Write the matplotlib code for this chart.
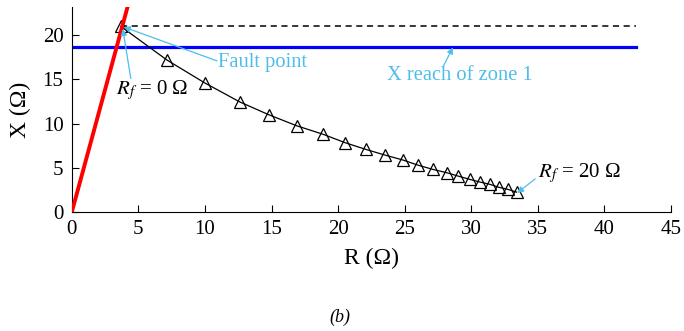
import matplotlib.pyplot as plt

plt.rcParams['font.family'] = ['Liberation Serif', 'DejaVu Serif']
plt.rcParams['mathtext.fontset'] = 'stix'

# Траєкторія опору при зміні Rf від 0 до 20 Ом (крок 1 Ом)
r_traj = [3.68, 7.14, 9.99, 12.62, 14.80, 16.90, 18.86, 20.51, 22.09, 23.52, 24.87,
          26.00, 27.12, 28.17, 29.00, 29.90, 30.65, 31.40, 32.08, 32.76, 33.40]
x_traj = [21.0, 17.2, 14.6, 12.45, 11.0, 9.75, 8.8, 7.85, 7.08, 6.44, 5.88,
          5.3, 4.82, 4.44, 4.07, 3.69, 3.39, 3.13, 2.79, 2.56, 2.25]

# Характеристика лінії
line_r = [0, 4.6]
line_x = [0, 25.5]

# Горизонталі: реактанс точки КЗ та уставка зони 1
fault_x = 21.0
reach_x = 18.65
h_end = 42.4

fig = plt.figure(figsize=(6.84, 3.31), dpi=100)
ax = fig.add_axes([0.105, 0.3595, 0.876, 0.6195])

ax.plot(line_r, line_x, color='red', lw=2.8, zorder=3)
ax.plot([r_traj[0], h_end], [fault_x, fault_x], color='black', ls=(0, (4, 3)), lw=1.1)
ax.plot([0, h_end], [reach_x, reach_x], color='blue', lw=2.3)
ax.plot(r_traj, x_traj, color='black', lw=0.9, marker='^', ms=8,
        markerfacecolor='none', markeredgecolor='black', markeredgewidth=0.9)

ax.set_xlim(0, 45)
ax.set_ylim(0, 23.2)
ax.set_xticks(range(0, 46, 5))
ax.set_yticks(range(0, 21, 5))
ax.spines['top'].set_visible(False)
ax.spines['right'].set_visible(False)
ax.tick_params(direction='in', length=5, labelsize=15, pad=6)
ax.set_xlabel('R (Ω)', fontsize=17, labelpad=6)
ax.set_ylabel('X (Ω)', fontsize=17, labelpad=8)

c = '#4fbde9'
arrow = dict(arrowstyle='-|>', color=c, lw=0.9, mutation_scale=9,
             shrinkA=0, shrinkB=0)

ax.annotate('', xy=(3.9, 20.93), xytext=(10.9, 17.1), arrowprops=arrow)
ax.text(10.95, 16.95, 'Fault point', color=c, fontsize=14.8, ha='left', va='center')

ax.annotate('', xy=(3.83, 20.7), xytext=(4.43, 15.1), arrowprops=arrow)
ax.text(3.35, 13.8, r'$R_f$ = 0 Ω', fontsize=15, ha='left', va='center')

ax.annotate('', xy=(28.62, 18.62), xytext=(27.87, 16.4), arrowprops=arrow)
ax.text(23.7, 15.5, 'X reach of zone 1', color=c, fontsize=14.8, ha='left', va='center')

ax.annotate('', xy=(33.45, 2.15), xytext=(34.8, 3.75), arrowprops=arrow)
ax.text(35.0, 4.4, r'$R_f$ = 20 Ω', fontsize=15, ha='left', va='center')

fig.text(340 / 684, 1 - 317 / 331, '(b)', style='italic', fontsize=13,
         ha='center', va='center')

fig.savefig('out.png', dpi=100)
